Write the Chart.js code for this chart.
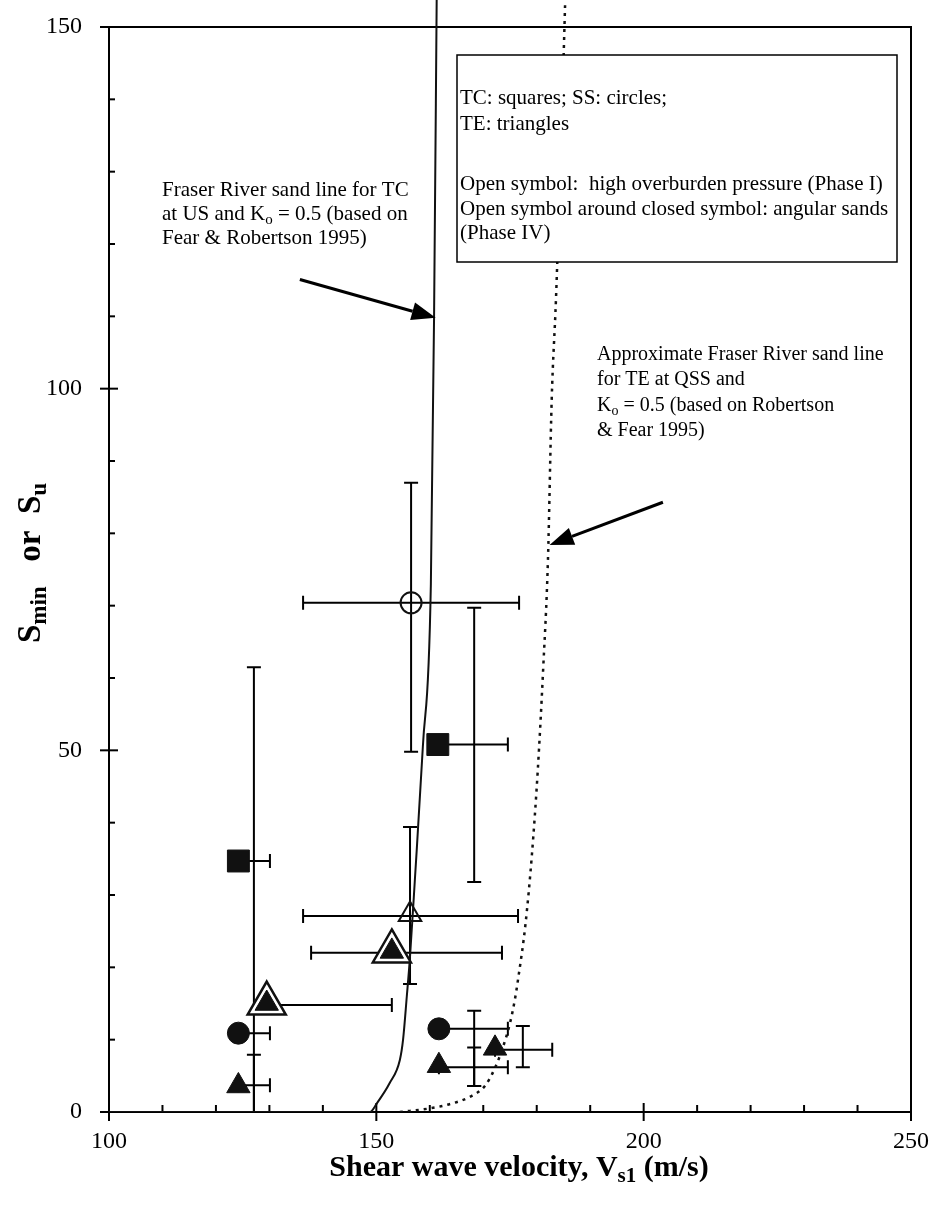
<!DOCTYPE html>
<html>
<head>
<meta charset="utf-8">
<script src="https://cdn.jsdelivr.net/npm/chart.js@4/dist/chart.umd.min.js"></script>
<style>
  html, body { margin: 0; padding: 0; background: #fff; }
  canvas { display: block; }
</style>
</head>
<body>
<canvas id="chart" width="931" height="1207"></canvas>
<script>
// axis ticks
const xTickValues = [100, 150, 200, 250];
const yTickValues = [0, 50, 100, 150];
const minorStep = 10;

// TC: squares (closed)
const squareX = [124.2, 161.5];
const squareY = [34.7, 50.8];
// SS: circles (closed)
const circleX = [124.2, 161.7];
const circleY = [10.9, 11.5];
// SS open circle (Phase I)
const openCircleX = [156.5];
const openCircleY = [70.4];
// TE: triangles (closed)
const triangleX = [124.2, 161.7, 172.2];
const triangleY = [3.6, 6.4, 8.8];
// TE open triangle (Phase I)
const openTriangleX = [156.3];
const openTriangleY = [27.3];
// TE open around closed (angular sands, Phase IV)
const angularX = [129.5, 152.9];
const angularY = [15.0, 22.2];

// horizontal error bars: y, low x, high x
const hBarY    = [34.7, 10.9, 3.7, 14.8, 22.0, 27.1, 70.4, 50.8, 11.5, 6.2, 8.6];
const hBarLow  = [124.2, 124.2, 124.2, 129.5, 137.8, 136.3, 136.3, 161.5, 161.7, 161.7, 172.2];
const hBarHigh = [130.1, 130.1, 130.1, 152.9, 173.5, 176.5, 176.7, 174.6, 174.6, 174.6, 182.9];
// vertical error bars: x, low y, high y
const vBarX    = [127.1, 127.1, 156.5, 156.3, 168.3, 168.3, 168.3, 177.4];
const vBarLow  = [0, 0, 49.8, 17.7, 31.8, 3.6, 3.6, 6.2];
const vBarHigh = [61.5, 7.9, 87.0, 39.4, 69.7, 14.0, 8.9, 11.9];

// Fraser River sand line for TC (solid)
const tcLineX = [100, 148.8, 150.1, 152.5, 154.4, 155.0, 155.7, 156.3, 157.2, 158.7, 160.2, 160.8, 161.3];
const tcLineY = [0, 0, 1.2, 4.0, 7.2, 10.0, 16.0, 21.5, 32.0, 50.5, 73.0, 110.0, 155.0];
// Approximate Fraser River sand line for TE (dotted)
const teLineX = [154.4, 160.0, 163.8, 167.5, 170.3, 172.2, 173.7, 175.0, 175.9, 176.5, 177.9, 179.1, 180.2, 181.2, 182.1, 182.8, 183.6, 184.6, 185.3];
const teLineY = [0, 0.5, 1.1, 2.1, 3.6, 6.1, 9.0, 12.3, 15.5, 18.3, 26.0, 35.6, 47.3, 61.2, 76.4, 98.5, 112.4, 135.0, 153.0];

const pts = (xs, ys) => xs.map((x, i) => ({ x: x, y: ys[i] }));

const SERIF = '"Liberation Serif", "Times New Roman", serif';
const CAP = 7;

// draw a line of text made of normal and subscript pieces
function richText(ctx, parts, x, y, size, bold) {
  let cx = x;
  parts.forEach(p => {
    const s = p.sub ? Math.round(size * 0.7) : size;
    ctx.font = (bold ? 'bold ' : '') + s + 'px ' + SERIF;
    ctx.fillText(p.t, cx, p.sub ? y + size * 0.28 : y);
    cx += ctx.measureText(p.t).width;
  });
  return cx - x;
}
function richWidth(ctx, parts, size, bold) {
  let w = 0;
  parts.forEach(p => {
    const s = p.sub ? Math.round(size * 0.7) : size;
    ctx.font = (bold ? 'bold ' : '') + s + 'px ' + SERIF;
    w += ctx.measureText(p.t).width;
  });
  return w;
}

function arrow(ctx, x1, y1, x2, y2) {
  const ang = Math.atan2(y2 - y1, x2 - x1);
  const len = 24, half = 9;
  const bx = x2 - Math.cos(ang) * len, by = y2 - Math.sin(ang) * len;
  ctx.beginPath();
  ctx.moveTo(x1, y1);
  ctx.lineTo(bx, by);
  ctx.lineWidth = 3;
  ctx.stroke();
  ctx.beginPath();
  ctx.moveTo(x2, y2);
  ctx.lineTo(bx - Math.sin(ang) * half, by + Math.cos(ang) * half);
  ctx.lineTo(bx + Math.sin(ang) * half, by - Math.cos(ang) * half);
  ctx.closePath();
  ctx.fill();
}

const framePlugin = {
  id: 'framePlugin',
  beforeDatasetsDraw(chart) {
    const { ctx, chartArea: a, scales: { x, y } } = chart;
    ctx.save();
    ctx.strokeStyle = '#000';
    ctx.lineWidth = 2;
    ctx.strokeRect(a.left, a.top, a.right - a.left, a.bottom - a.top);
    // x ticks
    for (let v = xTickValues[0]; v <= xTickValues[xTickValues.length - 1]; v += minorStep) {
      const px = x.getPixelForValue(v);
      const major = xTickValues.includes(v);
      ctx.beginPath();
      ctx.moveTo(px, a.bottom + (major ? 9 : 0));
      ctx.lineTo(px, a.bottom - (major ? 9 : 7));
      ctx.stroke();
    }
    // y ticks
    for (let v = yTickValues[0]; v <= yTickValues[yTickValues.length - 1]; v += minorStep) {
      const py = y.getPixelForValue(v);
      const major = yTickValues.includes(v);
      ctx.beginPath();
      ctx.moveTo(a.left - (major ? 9 : 0), py);
      ctx.lineTo(a.left + (major ? 9 : 6), py);
      ctx.stroke();
    }
    // error bars
    ctx.lineWidth = 2;
    hBarY.forEach((yv, i) => {
      const py = y.getPixelForValue(yv);
      const p1 = x.getPixelForValue(hBarLow[i]);
      const p2 = x.getPixelForValue(hBarHigh[i]);
      ctx.beginPath();
      ctx.moveTo(p1, py); ctx.lineTo(p2, py);
      ctx.moveTo(p1, py - CAP); ctx.lineTo(p1, py + CAP);
      ctx.moveTo(p2, py - CAP); ctx.lineTo(p2, py + CAP);
      ctx.stroke();
    });
    vBarX.forEach((xv, i) => {
      const px = x.getPixelForValue(xv);
      const p1 = y.getPixelForValue(vBarLow[i]);
      const p2 = y.getPixelForValue(vBarHigh[i]);
      ctx.beginPath();
      ctx.moveTo(px, p1); ctx.lineTo(px, p2);
      ctx.moveTo(px - CAP, p1); ctx.lineTo(px + CAP, p1);
      ctx.moveTo(px - CAP, p2); ctx.lineTo(px + CAP, p2);
      ctx.stroke();
    });
    ctx.restore();
  },
  afterDatasetsDraw(chart) {
    const { ctx, chartArea: a, scales: { x, y } } = chart;
    ctx.save();
    ctx.fillStyle = '#000';
    ctx.strokeStyle = '#000';
    ctx.textBaseline = 'middle';
    ctx.textAlign = 'left';

    // legend box
    ctx.fillStyle = '#fff';
    ctx.fillRect(457, 55, 440, 207);
    ctx.lineWidth = 1.5;
    ctx.strokeRect(457, 55, 440, 207);
    ctx.fillStyle = '#000';
    const fs = 21;
    ctx.font = fs + 'px ' + SERIF;
    ctx.fillText('TC: squares; SS: circles;', 460, 98);
    ctx.fillText('TE: triangles', 460, 124);
    ctx.fillText('Open symbol:  high overburden pressure (Phase I)', 460, 184);
    ctx.fillText('Open symbol around closed symbol: angular sands', 460, 209);
    ctx.fillText('(Phase IV)', 460, 233);

    // annotation for TC line
    ctx.font = fs + 'px ' + SERIF;
    ctx.fillText('Fraser River sand line for TC', 162, 190);
    richText(ctx, [{ t: 'at US and K' }, { t: 'o', sub: true }, { t: ' = 0.5 (based on' }], 162, 214, fs, false);
    ctx.font = fs + 'px ' + SERIF;
    ctx.fillText('Fear & Robertson 1995)', 162, 238);
    arrow(ctx, x.getPixelForValue(135.7), y.getPixelForValue(115.1), x.getPixelForValue(161.1), y.getPixelForValue(109.8));

    // annotation for TE line
    const fs2 = 20;
    ctx.font = fs2 + 'px ' + SERIF;
    ctx.fillText('Approximate Fraser River sand line', 597, 355);
    ctx.fillText('for TE at QSS and', 597, 380);
    richText(ctx, [{ t: 'K' }, { t: 'o', sub: true }, { t: ' = 0.5 (based on Robertson' }], 597, 406, fs2, false);
    ctx.font = fs2 + 'px ' + SERIF;
    ctx.fillText('& Fear 1995)', 597, 431);
    arrow(ctx, x.getPixelForValue(203.6), y.getPixelForValue(84.3), x.getPixelForValue(182.4), y.getPixelForValue(78.4));

    // axis titles
    const ts = 30;
    const xt = [{ t: 'Shear wave velocity, V' }, { t: 's1', sub: true }, { t: ' (m/s)' }];
    const xw = richWidth(ctx, xt, ts, true);
    richText(ctx, xt, 519 - xw / 2, 1168, ts, true);

    const ys = 33;
    const yt = [{ t: 'S' }, { t: 'min', sub: true }, { t: '   or  S' }, { t: 'u', sub: true }];
    const yw = richWidth(ctx, yt, ys, true);
    ctx.translate(31, 563);
    ctx.rotate(-Math.PI / 2);
    richText(ctx, yt, -yw / 2, 0, ys, true);
    ctx.restore();
  }
};

const lineClip = { left: 0, top: 30, right: 0, bottom: 0 };

new Chart(document.getElementById('chart'), {
  type: 'scatter',
  data: {
    datasets: [
      {
        label: 'TE angular (inner)', data: pts(angularX, angularY), order: 0,
        pointStyle: 'triangle', pointRadius: 13.5, backgroundColor: '#111', borderColor: '#111', borderWidth: 1
      },
      {
        label: 'TE angular (outer)', data: pts(angularX, angularY), order: 1,
        pointStyle: 'triangle', pointRadius: 22, backgroundColor: '#fff', borderColor: '#111', borderWidth: 2.5
      },
      {
        label: 'TC', data: pts(squareX, squareY), order: 2,
        pointStyle: 'rect', pointRadius: 15.5, backgroundColor: '#111', borderColor: '#111', borderWidth: 1
      },
      {
        label: 'SS', data: pts(circleX, circleY), order: 2,
        pointStyle: 'circle', pointRadius: 11, backgroundColor: '#111', borderColor: '#111', borderWidth: 1
      },
      {
        label: 'SS Phase I', data: pts(openCircleX, openCircleY), order: 2,
        pointStyle: 'circle', pointRadius: 10.5, backgroundColor: 'rgba(0,0,0,0)', borderColor: '#111', borderWidth: 2
      },
      {
        label: 'TE', data: pts(triangleX, triangleY), order: 2,
        pointStyle: 'triangle', pointRadius: 13.5, backgroundColor: '#111', borderColor: '#111', borderWidth: 1
      },
      {
        label: 'TE Phase I', data: pts(openTriangleX, openTriangleY), order: 2,
        pointStyle: 'triangle', pointRadius: 13, backgroundColor: 'rgba(0,0,0,0)', borderColor: '#111', borderWidth: 2
      },
      {
        label: 'TC line', data: pts(tcLineX, tcLineY), order: 5, showLine: true,
        pointRadius: 0, borderColor: '#111', borderWidth: 2, cubicInterpolationMode: 'monotone', clip: lineClip
      },
      {
        label: 'TE line', data: pts(teLineX, teLineY), order: 5, showLine: true,
        pointRadius: 0, borderColor: '#111', borderWidth: 2.5, borderDash: [3, 5], cubicInterpolationMode: 'monotone', clip: lineClip
      }
    ]
  },
  options: {
    responsive: false,
    animation: false,
    devicePixelRatio: 1,
    layout: { autoPadding: false, padding: { left: 0, top: 27, right: 20, bottom: 0 } },
    plugins: { legend: { display: false }, tooltip: { enabled: false } },
    scales: {
      x: {
        type: 'linear', min: 100, max: 250,
        afterBuildTicks: s => { s.ticks = xTickValues.map(v => ({ value: v })); },
        afterFit: s => { s.height = 95; s.paddingLeft = 0; s.paddingRight = 0; },
        grid: { display: false }, border: { display: false },
        ticks: { color: '#000', padding: 7, font: { family: SERIF, size: 24 } }
      },
      y: {
        type: 'linear', min: 0, max: 150,
        afterBuildTicks: s => { s.ticks = yTickValues.map(v => ({ value: v })); },
        afterFit: s => { s.width = 109; s.paddingTop = 0; s.paddingBottom = 0; },
        grid: { display: false }, border: { display: false },
        ticks: { color: '#000', padding: 19, font: { family: SERIF, size: 24 } }
      }
    }
  },
  plugins: [framePlugin]
});
</script>
</body>
</html>
